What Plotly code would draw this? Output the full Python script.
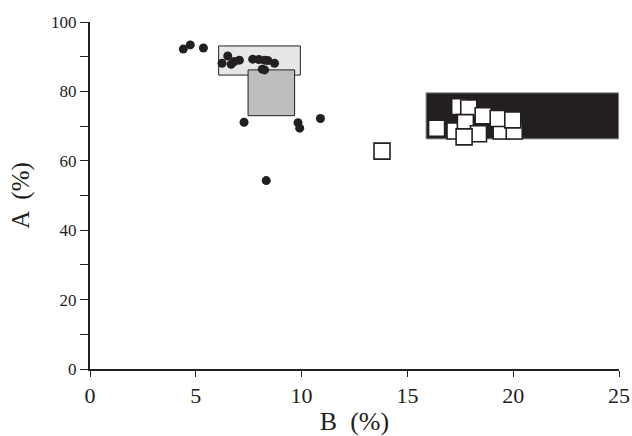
import plotly.graph_objects as go

# Dots (group 1)
dots_b = [4.41, 4.74, 5.36, 6.51, 6.24, 6.67, 6.82, 7.06, 7.69, 7.98, 8.25, 8.40, 8.72,
          8.14, 8.25, 7.28, 9.83, 9.91, 10.89, 8.33]
dots_a = [92.2, 93.4, 92.5, 90.2, 88.1, 87.8, 88.6, 89.0, 89.3, 89.2, 89.0, 88.9, 88.1,
          86.4, 86.2, 71.1, 71.0, 69.4, 72.2, 54.3]

# Squares (group 2)
sq_b = [19.43, 20.05, 17.25, 17.47, 17.90, 18.58, 19.29, 19.98, 16.38, 17.74, 18.36, 17.68, 13.8]
sq_a = [68.6, 68.6, 68.6, 75.6, 75.2, 73.0, 72.2, 71.8, 69.4, 71.0, 67.8, 66.9, 62.8]

# Range boxes: [x0, x1, y0, y1]
box_light = [6.08, 9.94, 84.7, 93.1]
box_grey = [7.47, 9.67, 73.0, 86.2]
box_black = [15.88, 24.99, 66.3, 79.6]

x_ticks = [0, 5, 10, 15, 20, 25]
y_ticks = [0, 10, 20, 30, 40, 50, 60, 70, 80, 90, 100]
y_ticktext = ["0", "", "20", "", "40", "", "60", "", "80", "", "100"]

fig = go.Figure()

fig.add_trace(go.Scatter(x=dots_b, y=dots_a, mode="markers",
                         marker=dict(symbol="circle", size=9, color="#231f20",
                                     line=dict(width=0)),
                         showlegend=False))
fig.add_trace(go.Scatter(x=sq_b, y=sq_a, mode="markers",
                         marker=dict(symbol="square", size=16, color="white",
                                     line=dict(width=1.6, color="#231f20")),
                         showlegend=False))

def rect(b, fill, line_color, lw):
    return dict(type="rect", xref="x", yref="y", x0=b[0], x1=b[1], y0=b[2], y1=b[3],
                fillcolor=fill, line=dict(color=line_color, width=lw), layer="below")

fig.update_layout(
    shapes=[rect(box_light, "#e6e7e8", "#231f20", 1),
            rect(box_grey, "#bcbec0", "#231f20", 1),
            rect(box_black, "#231f20", "#9a9a9a", 1)],
    width=632, height=436,
    margin=dict(l=90, r=13, t=22, b=67),
    paper_bgcolor="white", plot_bgcolor="white",
    font=dict(family="Liberation Serif, Times New Roman, serif", color="#231f20", size=16),
    xaxis=dict(range=[0, 25], tickvals=x_ticks, ticktext=[str(v) for v in x_ticks],
               automargin=False,
               showgrid=False, zeroline=False, showline=True, linecolor="#231f20",
               linewidth=2, ticks="outside", ticklen=6, tickwidth=1.2, tickcolor="#231f20",
               tickfont=dict(size=22),
               title=dict(text="B  (%)", font=dict(size=26), standoff=4)),
    yaxis=dict(range=[0, 100], tickvals=y_ticks, ticktext=y_ticktext,
               automargin=False,
               showgrid=False, zeroline=False, showline=True, linecolor="#231f20",
               linewidth=2, ticks="outside", ticklen=8, tickwidth=1.2, tickcolor="#231f20",
               tickfont=dict(size=17),
               title=dict(text="A  (%)", font=dict(size=25), standoff=14)),
)

fig.write_html("out.html")
